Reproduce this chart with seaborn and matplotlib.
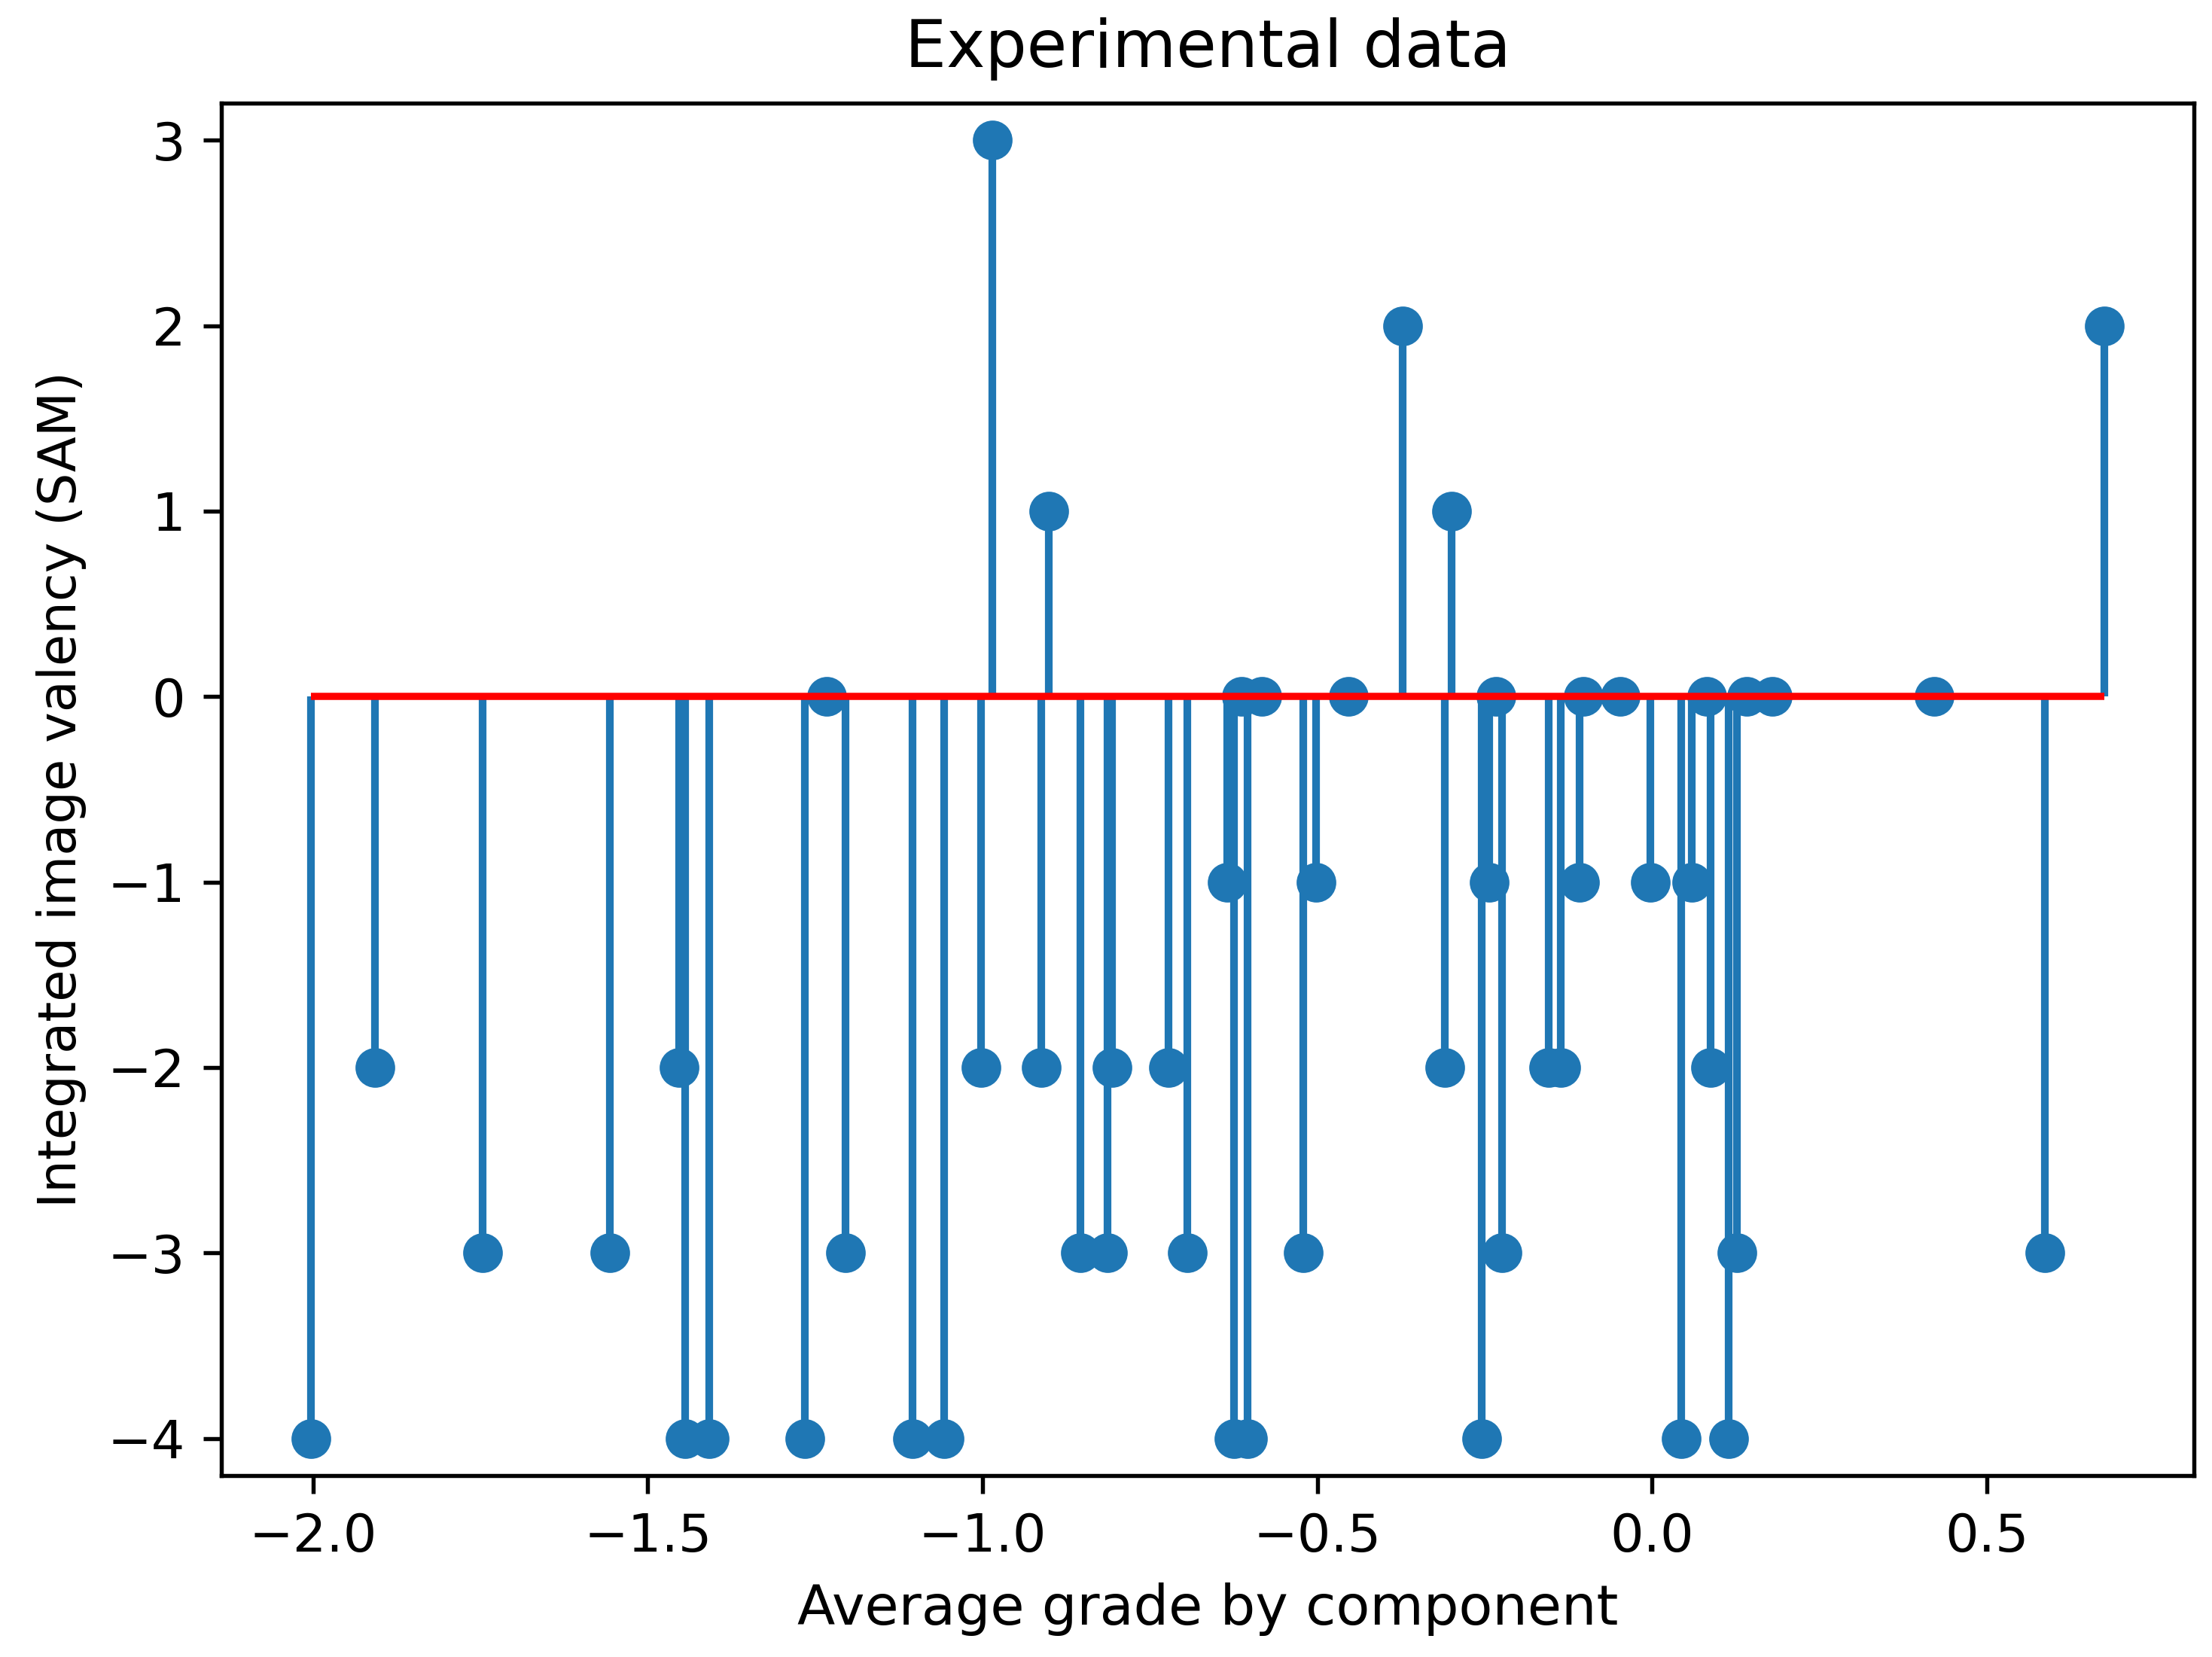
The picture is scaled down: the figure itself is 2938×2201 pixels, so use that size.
import numpy as np
import pandas as pd
import matplotlib
matplotlib.use('Agg')
import matplotlib.pyplot as plt
import seaborn as sns

# average grade per component (x) and integrated SAM valency (y)
grade = [
    -2.003, -1.907, -1.746, -1.557, -1.453, -1.444, -1.408, -1.265, -1.233, -1.205,
    -1.104, -1.057, -1.002, -0.985, -0.912, -0.901, -0.854, -0.813, -0.806, -0.722,
    -0.694, -0.634, -0.624, -0.613, -0.604, -0.583, -0.521, -0.502, -0.453, -0.372,
    -0.310, -0.299, -0.254, -0.243, -0.233, -0.224, -0.154, -0.136, -0.108, -0.102,
    -0.047, -0.002, 0.044, 0.059, 0.082, 0.087, 0.115, 0.127, 0.142, 0.180,
    0.422, 0.587, 0.676,
]
valency = [
    -4, -2, -3, -3, -2, -4, -4, -4, 0, -3,
    -4, -4, -2, 3, -2, 1, -3, -3, -2, -2,
    -3, -1, -4, 0, -4, 0, -3, -1, 0, 2,
    -2, 1, -4, -1, 0, -3, -2, -2, -1, 0,
    0, -1, -4, -1, 0, -2, -4, -3, 0, 0,
    0, -3, 2,
]

df = pd.DataFrame({'grade': grade, 'valency': valency})

dpi = 490
fig, ax = plt.subplots(figsize=(2938 / dpi, 2201 / dpi), dpi=dpi)
fig.subplots_adjust(left=0.1, right=0.992, bottom=0.1095, top=0.9378)

# stems, markers, then red baseline on top (like plt.stem)
ax.vlines(df['grade'], 0, df['valency'], color='C0', linewidth=1.5, zorder=2)
sns.scatterplot(data=df, x='grade', y='valency', color='C0', s=60,
                linewidth=0, zorder=3, ax=ax)
ax.hlines(0, df['grade'].min(), df['grade'].max(), color='r', linewidth=1.4, zorder=4)

ax.set_ylim(-4.2, 3.2)
ax.tick_params(labelsize=10.3)
ax.set_title('Experimental data', fontsize=12.8, pad=7)
ax.set_xlabel('Average grade by component', fontsize=10.8)
ax.set_ylabel('Integrated image valency (SAM)', fontsize=10.1)

fig.savefig('out.png', dpi=dpi)
